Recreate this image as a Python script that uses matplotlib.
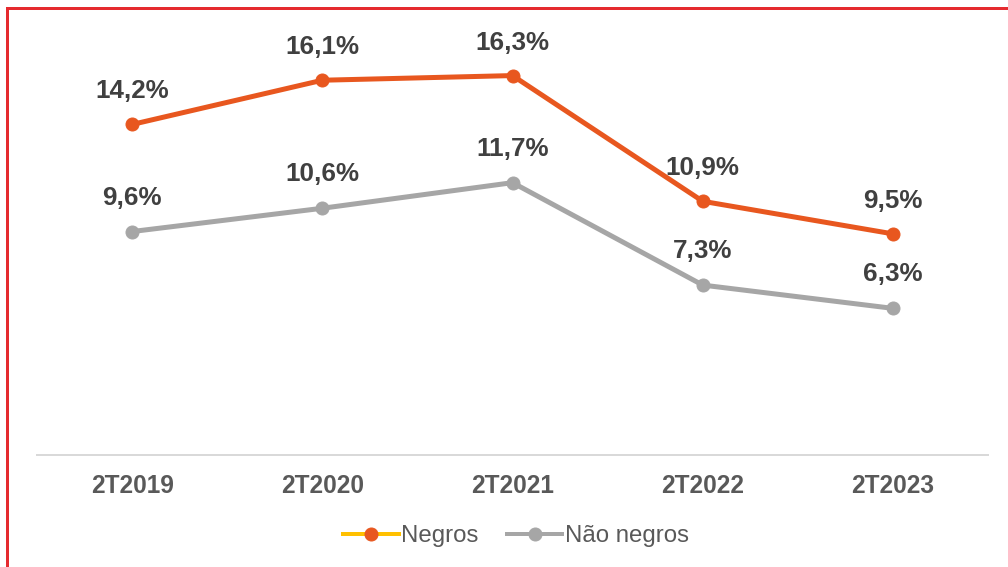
import matplotlib
matplotlib.use("Agg")
import matplotlib.pyplot as plt
from matplotlib.lines import Line2D
from matplotlib.patches import Rectangle

plt.rcParams["font.family"] = ["Liberation Sans", "DejaVu Sans"]

periods = ["2T2019", "2T2020", "2T2021", "2T2022", "2T2023"]
negros = [14.2, 16.1, 16.3, 10.9, 9.5]
nao_negros = [9.6, 10.6, 11.7, 7.3, 6.3]

ORANGE = "#E8571F"
GREY = "#A6A6A6"
YELLOW = "#FFC000"
TEXT = "#404040"
TICK = "#595959"


def fmt(v):
    return f"{v:.1f}".replace(".", ",") + "%"


fig = plt.figure(figsize=(14, 7.875), dpi=72)
ax = fig.add_axes([0.0367, 0.1975, 0.9435, 0.739])

x = range(len(periods))
ax.plot(x, negros, color=ORANGE, lw=5, marker="o", ms=13, solid_capstyle="round")
ax.plot(x, nao_negros, color=GREY, lw=5, marker="o", ms=13, solid_capstyle="round")

for xi, v in zip(x, negros):
    ax.annotate(fmt(v), (xi, v), xytext=(0, 33), textcoords="offset points",
                ha="center", va="center", fontsize=26, fontweight="bold", color=TEXT)
for xi, v in zip(x, nao_negros):
    ax.annotate(fmt(v), (xi, v), xytext=(0, 34), textcoords="offset points",
                ha="center", va="center", fontsize=26, fontweight="bold", color=TEXT)

ax.set_xlim(-0.5, len(periods) - 0.5)
ax.set_ylim(0, 18)
ax.set_xticks(list(x))
ax.set_xticklabels(periods, fontsize=24.5, fontweight="bold", color=TICK)
ax.tick_params(axis="x", length=0, pad=19)
ax.set_yticks([])
for side in ["left", "right", "top"]:
    ax.spines[side].set_visible(False)
ax.spines["bottom"].set_color("#D9D9D9")
ax.spines["bottom"].set_linewidth(2)

handles = [
    Line2D([0], [0], color=YELLOW, lw=4, marker="o", ms=13,
           markerfacecolor=ORANGE, markeredgecolor=ORANGE),
    Line2D([0], [0], color=GREY, lw=4, marker="o", ms=13,
           markerfacecolor=GREY, markeredgecolor=GREY),
]
leg = fig.legend(handles, ["Negros", "Não negros"], loc="center",
                 bbox_to_anchor=(0.512, 1 - 536 / 567), ncol=2, frameon=False,
                 fontsize=24, handlelength=2.3, handletextpad=0.1,
                 columnspacing=1.2)
for t in leg.get_texts():
    t.set_color(TICK)

# red frame, cut off at the right and bottom edges
fig.patches.append(Rectangle((7 / 1008, -0.1), 1.2, 1 - 7.5 / 567 + 0.1,
                             transform=fig.transFigure, fill=False,
                             edgecolor="#E52A2F", lw=3))

fig.savefig("out.png", dpi=72)
